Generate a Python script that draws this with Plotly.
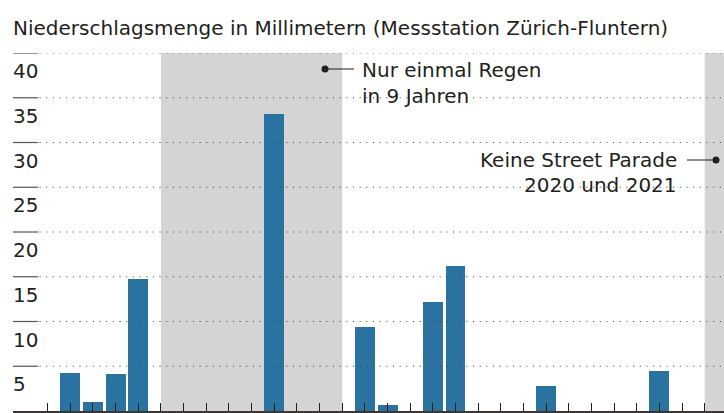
import plotly.graph_objects as go

# ---- data ----
years = list(range(1992, 2020))
rain_mm = [4.2, 1.0, 4.1, 14.8, 0, 0, 0, 0, 0, 33.2, 0, 0, 0,
           9.4, 0.7, 0, 12.2, 16.2, 0, 0, 0, 2.8, 0, 0, 0, 0, 4.5, 0]
y_ticks = [5, 10, 15, 20, 25, 30, 35, 40]
y_tick_labels = ["5", "10", "15", "20", "25", "30", "35", "40"]
x_tick_years = list(range(1991, 2022))
band_dry = (1996, 2004)
band_none = (2020, 2021)
title_text = "Niederschlagsmenge in Millimetern (Messstation Zürich-Fluntern)"
note_dry = ["Nur einmal Regen", "in 9 Jahren"]
note_none = ["Keine Street Parade", "2020 und 2021"]

# ---- layout geometry (pixels) ----
W, H = 724, 413
L, R, T, B = 13, 724, 53, 411
FONT = "DejaVu Sans"
TXT = "#231f1b"
BAR = "#2a73a0"
GRAY = "#d4d4d4"

def xp(px):
    return (px - L) / (R - L)

def yp(py):
    return (B - py) / (B - T)

fig = go.Figure()
fig.add_trace(go.Bar(x=years, y=rain_mm, width=0.88, marker=dict(color=BAR, line=dict(width=0)),
                     hoverinfo="x+y"))

shapes = []
# shaded bands
for x0, x1 in (band_dry, band_none):
    shapes.append(dict(type="rect", xref="x", yref="y", x0=x0, x1=x1, y0=0, y1=40,
                       fillcolor=GRAY, line=dict(width=0), layer="below"))
# gridlines (dotted) + short solid tick line at left
for v in y_ticks:
    shapes.append(dict(type="line", xref="paper", yref="y", x0=xp(39.5), x1=1, y0=v, y1=v,
                       line=dict(color="#3f3a35", width=1, dash="1px,5.67px"), layer="above"))
    shapes.append(dict(type="line", xref="paper", yref="y", x0=0, x1=xp(38), y0=v, y1=v,
                       line=dict(color="#5a544e", width=1.2), layer="above"))
# callout lines and dots
shapes.append(dict(type="line", xref="paper", yref="paper", x0=xp(325), x1=xp(354),
                   y0=yp(69), y1=yp(69), line=dict(color=TXT, width=1), layer="above"))
shapes.append(dict(type="circle", xref="paper", yref="paper", x0=xp(321.5), x1=xp(328.5),
                   y0=yp(65.5), y1=yp(72.5), fillcolor=TXT, line=dict(width=0), layer="above"))
shapes.append(dict(type="line", xref="paper", yref="paper", x0=xp(687), x1=xp(716),
                   y0=yp(160), y1=yp(160), line=dict(color=TXT, width=1), layer="above"))
shapes.append(dict(type="circle", xref="paper", yref="paper", x0=xp(712.5), x1=xp(719.5),
                   y0=yp(156.5), y1=yp(163.5), fillcolor=TXT, line=dict(width=0), layer="above"))

annotations = []
for v, lab in zip(y_ticks, y_tick_labels):
    annotations.append(dict(text=lab, xref="paper", yref="y", x=xp(11), y=v, yshift=-18,
                            xanchor="left", yanchor="middle", showarrow=False,
                            font=dict(family=FONT, size=20, color=TXT)))
for i, line in enumerate(note_dry):
    annotations.append(dict(text=line, xref="paper", yref="paper", x=xp(360), y=yp(70 + 26 * i),
                            xanchor="left", yanchor="middle", showarrow=False,
                            font=dict(family=FONT, size=20, color=TXT)))
for i, line in enumerate(note_none):
    annotations.append(dict(text=line, xref="paper", yref="paper", x=xp(679), y=yp(160 + 25 * i),
                            xanchor="right", yanchor="middle", showarrow=False,
                            font=dict(family=FONT, size=20, color=TXT)))
annotations.append(dict(text=title_text, xref="paper", yref="paper", x=xp(11), y=yp(28),
                        xanchor="left", yanchor="middle", showarrow=False,
                        font=dict(family=FONT, size=20, color=TXT)))

fig.update_layout(
    width=W, height=H,
    margin=dict(l=L, r=W - R, t=T, b=H - B, pad=0),
    paper_bgcolor="white", plot_bgcolor="white",
    showlegend=False,
    bargap=0,
    shapes=shapes,
    annotations=annotations,
    xaxis=dict(range=[1989.47, 2020.85], tickvals=x_tick_years, showticklabels=False,
               ticks="inside", ticklen=8, tickwidth=1, tickcolor=TXT,
               showgrid=False, zeroline=False, showline=True, linecolor="#3b3631", linewidth=1.5,
               fixedrange=True),
    yaxis=dict(range=[0, 40], showgrid=False, zeroline=False, showticklabels=False,
               showline=False, fixedrange=True),
)

fig.write_html("out.html", config={"displayModeBar": False},
               post_script="document.body.style.margin='0';document.body.style.overflow='hidden';")
